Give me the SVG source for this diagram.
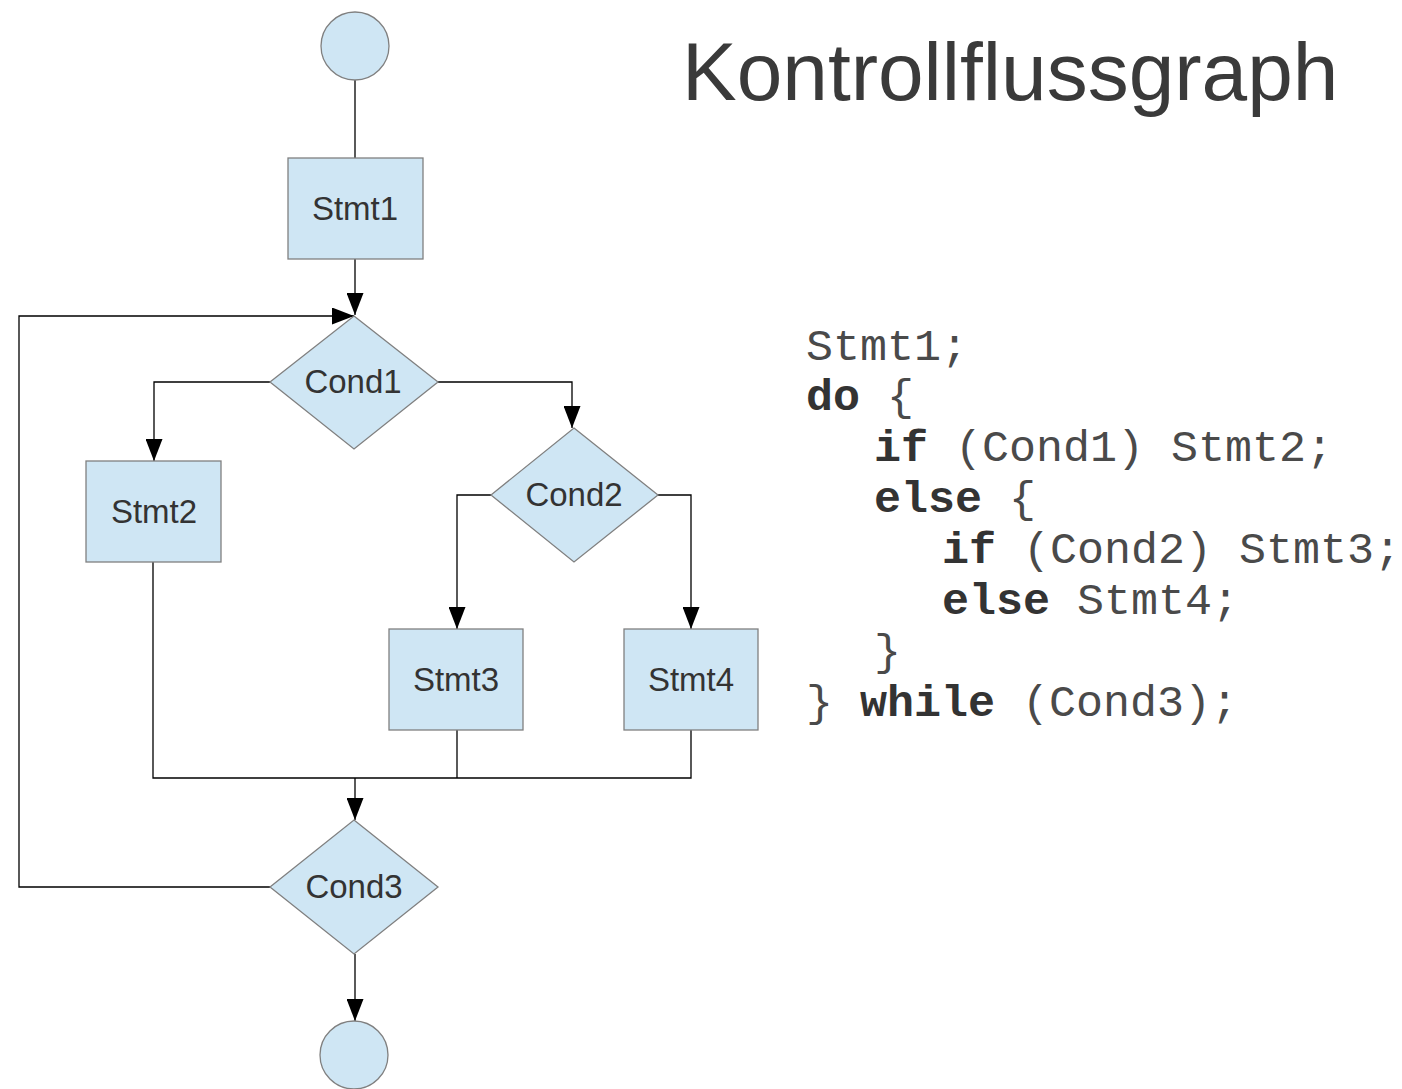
<svg xmlns="http://www.w3.org/2000/svg" width="1402" height="1089" viewBox="0 0 1402 1089">
<style>
.shape{fill:#cfe6f4;stroke:#808080;stroke-width:1.3}
.lbl{font-family:"Liberation Sans",Arial,sans-serif;font-size:33px;fill:#333;text-anchor:middle}
.conn{fill:none;stroke:#000;stroke-width:1.3}
.title{font-family:"Liberation Sans",Arial,sans-serif;font-size:82px;fill:#3a3a3a}
.code{font-family:"Liberation Mono","Courier New",monospace;font-size:45px;fill:#4a4a4a}
.kw{font-weight:bold;fill:#333}
</style>
<defs>
<marker id="arr" markerUnits="userSpaceOnUse" markerWidth="22" markerHeight="17" refX="22" refY="8.5" orient="auto">
<path d="M0,0 L22,8.5 L0,17 z" fill="#000"/>
</marker>
</defs>
<rect width="1402" height="1089" fill="#fff"/>
<g id="connectors">
<path class="conn" d="M355,80 L355,158"/>
<path class="conn" d="M355,259 L355,315" marker-end="url(#arr)"/>
<path class="conn" d="M270,887 L19,887 L19,316 L354,316" marker-end="url(#arr)"/>
<path class="conn" d="M270,382 L154,382 L154,461" marker-end="url(#arr)"/>
<path class="conn" d="M438,382 L572,382 L572,428" marker-end="url(#arr)"/>
<path class="conn" d="M491,495 L457,495 L457,629" marker-end="url(#arr)"/>
<path class="conn" d="M657,495 L691,495 L691,629" marker-end="url(#arr)"/>
<path class="conn" d="M153,562 L153,778 L691,778 L691,730"/>
<path class="conn" d="M457,730 L457,778"/>
<path class="conn" d="M355,778 L355,820" marker-end="url(#arr)"/>
<path class="conn" d="M355,954 L355,1021" marker-end="url(#arr)"/>
</g>
<g id="start">
<circle class="shape" cx="355" cy="46" r="34"/>
</g>
<g id="stmt1">
<rect class="shape" x="288" y="158" width="135" height="101"/>
<text class="lbl" x="355" y="220">Stmt1</text>
</g>
<g id="cond1">
<polygon class="shape" points="354,316 438,382 354,449 270,382"/>
<text class="lbl" x="353" y="393">Cond1</text>
</g>
<g id="stmt2">
<rect class="shape" x="86" y="461" width="135" height="101"/>
<text class="lbl" x="154" y="523">Stmt2</text>
</g>
<g id="cond2">
<polygon class="shape" points="574,428 658,495 574,562 491,495"/>
<text class="lbl" x="574" y="506">Cond2</text>
</g>
<g id="stmt3">
<rect class="shape" x="389" y="629" width="134" height="101"/>
<text class="lbl" x="456" y="691">Stmt3</text>
</g>
<g id="stmt4">
<rect class="shape" x="624" y="629" width="134" height="101"/>
<text class="lbl" x="691" y="691">Stmt4</text>
</g>
<g id="cond3">
<polygon class="shape" points="354,820 438,887 354,954 270,887"/>
<text class="lbl" x="354" y="898">Cond3</text>
</g>
<g id="end">
<circle class="shape" cx="354" cy="1055" r="34"/>
</g>
<g id="title">
<text class="title" x="682" y="100">Kontrollflussgraph</text>
</g>
<g id="code">
<text class="code" x="806" y="360">Stmt1;</text>
<text class="code" x="806" y="410"><tspan class="kw">do</tspan> {</text>
<text class="code" x="874" y="461"><tspan class="kw">if</tspan> (Cond1) Stmt2;</text>
<text class="code" x="874" y="512"><tspan class="kw">else</tspan> {</text>
<text class="code" x="942" y="563"><tspan class="kw">if</tspan> (Cond2) Stmt3;</text>
<text class="code" x="942" y="614"><tspan class="kw">else</tspan> Stmt4;</text>
<text class="code" x="874" y="665">}</text>
<text class="code" x="806" y="716">} <tspan class="kw">while</tspan> (Cond3);</text>
</g>
</svg>
